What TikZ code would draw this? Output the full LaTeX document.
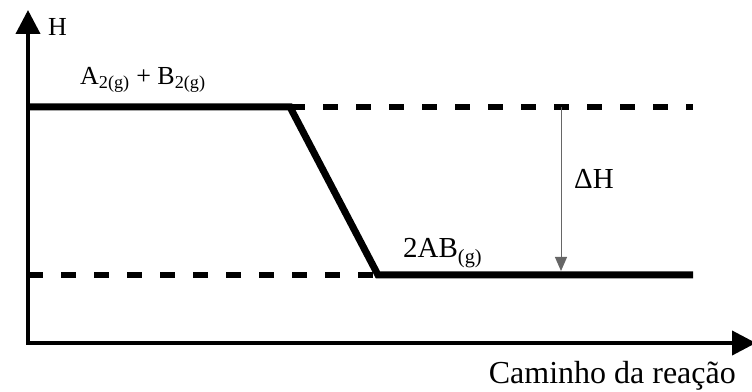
\documentclass[tikz,border=0pt]{standalone}
\usepackage{fontspec}
\setmainfont{Liberation Serif}
\usetikzlibrary{arrows.meta}

\begin{document}
\begin{tikzpicture}[
  x=1pt,y=1pt,
  >=latex,
  every node/.style={inner sep=0pt},
  axis/.style={{Triangle[length=24pt,width=24pt]}-{Triangle[length=24pt,width=24pt]},line width=4pt,line join=miter},
  level/.style={line width=7pt,line join=miter},
  guide/.style={line width=6pt,dash pattern=on 15pt off 18pt},
  delta/.style={-{Triangle[length=14pt,width=12pt]},line width=1pt,black!60},
  big/.style={font=\fontsize{32}{36}\selectfont},
  mid/.style={font=\fontsize{29}{33}\selectfont},
  small/.style={font=\fontsize{26}{30}\selectfont}
]
\useasboundingbox (0,0) rectangle (752,391);

% eixos H x caminho
\coordinate (o) at (28,48);
\coordinate (ytop) at (28,381);
\coordinate (xend) at (756,48);
\draw[axis] (ytop) -- (o) -- (xend);
\node[small,anchor=west] (hlbl) at (48,364) {H};
\node[big,anchor=base east] (xlbl) at (736,8) {Caminho da reação};

% niveis de entalpia
\coordinate (r1) at (28,284);
\coordinate (k1) at (290,284);
\coordinate (k2) at (378,116);
\coordinate (p2) at (693,116);
\coordinate (e1) at (693,284);
\coordinate (r2) at (28,116);
\draw[level] (r1) -- (k1) -- (k2) -- (p2);
\draw[guide] (k1) -- (e1);
\draw[guide] (r2) -- (k2);

\node[small,anchor=west] (reag) at (80,311)
  {A\textsubscript{2(g)} + B\textsubscript{2(g)}};
\node[mid,anchor=west] (prod) at (403,138) {2AB\textsubscript{(g)}};

% variacao de entalpia
\coordinate (d1) at (561,284);
\coordinate (d2) at (561,120);
\draw[delta] (d1) -- (d2);
\node[mid,anchor=west] (dh) at (574,212) {ΔH};
\end{tikzpicture}
\end{document}
